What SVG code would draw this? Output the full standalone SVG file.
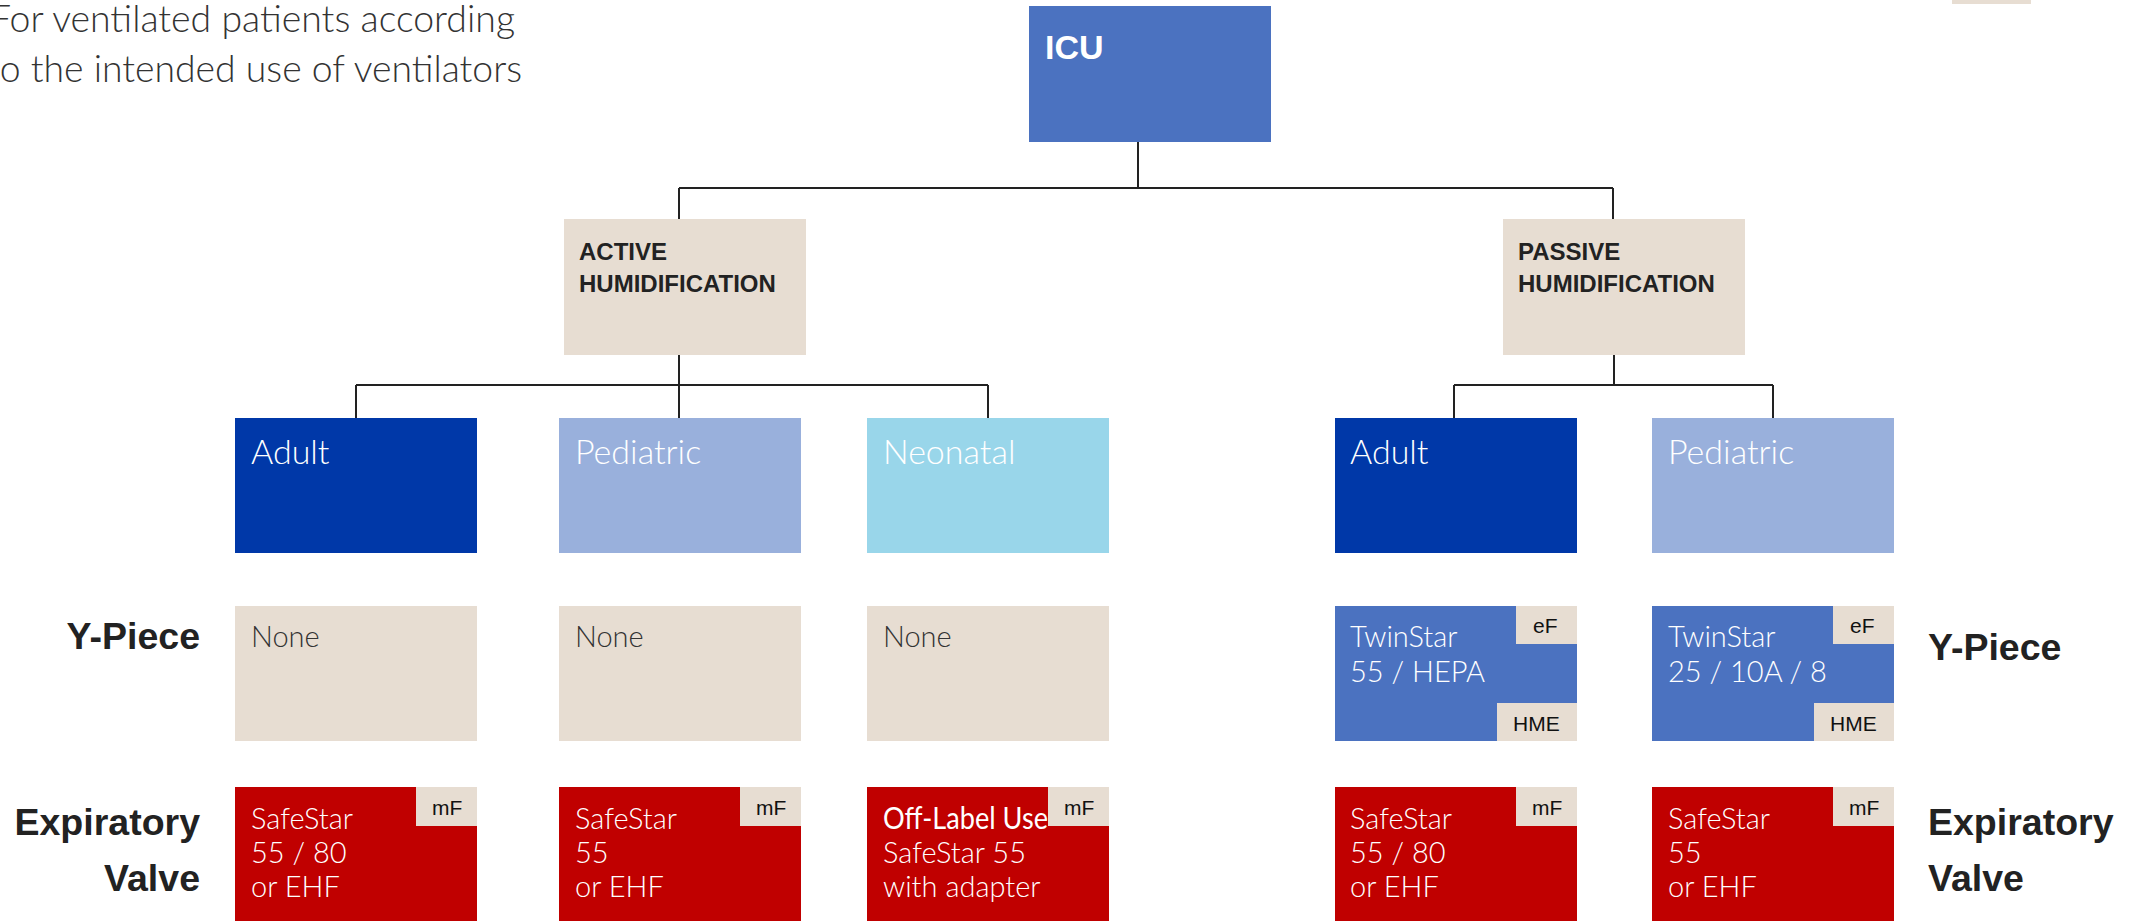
<svg xmlns="http://www.w3.org/2000/svg" width="2129" height="921" viewBox="0 0 2129 921">
<style>
.lt{font-family:Lato,"Liberation Sans",sans-serif;font-weight:300}
.cat{font-size:34px;fill:#fff}
.item{font-size:29px;fill:#fff}
.none{font-size:29px;fill:#333}
.tag{font-family:"Liberation Sans",Arial,sans-serif;font-size:21px;fill:#111}
.lbl{font-family:"Liberation Sans",Arial,sans-serif;font-weight:bold;font-size:37.5px;fill:#222}
.hum{font-family:"Liberation Sans",Arial,sans-serif;font-weight:bold;font-size:24px;fill:#222}
.beige{fill:#E7DDD2}
.red{fill:#C00000}
.mid{fill:#4B72C0}
.dark{fill:#0038A8}
.pale{fill:#99B0DC}
.cyan{fill:#99D6EA}
.con{stroke:#222;stroke-width:2;fill:none}
</style>
<rect class="beige" x="1952" y="0" width="79" height="4"/>
<g id="intro">
<text class="lt" x="-10" y="32" font-size="37" fill="#333" textLength="525" lengthAdjust="spacingAndGlyphs">For ventilated patients according</text>
<text class="lt" x="-13" y="82" font-size="37" fill="#333" textLength="535" lengthAdjust="spacingAndGlyphs">to the intended use of ventilators</text>
</g>
<g id="connectors">
<path class="con" d="M1138 142V188M679 188H1613M679 188V219M1613 188V219"/>
<path class="con" d="M679 355V418M356 385H988M356 385V418M988 385V418"/>
<path class="con" d="M1614 355V385M1454 385H1773M1454 385V418M1773 385V418"/>
</g>
<g id="icu"><rect class="mid" x="1029" y="6" width="242" height="136"/><text x="1045" y="59" font-family="Liberation Sans,Arial,sans-serif" font-weight="bold" font-size="34" fill="#fff">ICU</text></g>
<g id="active"><rect class="beige" x="564" y="219" width="242" height="136"/><text class="hum" x="579" y="260">ACTIVE</text><text class="hum" x="579" y="292">HUMIDIFICATION</text></g>
<g id="passive"><rect class="beige" x="1503" y="219" width="242" height="136"/><text class="hum" x="1518" y="260">PASSIVE</text><text class="hum" x="1518" y="292">HUMIDIFICATION</text></g>
<g id="adult-a"><rect class="dark" x="235" y="418" width="242" height="135"/><text class="lt cat" x="251" y="464">Adult</text></g>
<g id="ped-a"><rect class="pale" x="559" y="418" width="242" height="135"/><text class="lt cat" x="575" y="464">Pediatric</text></g>
<g id="neo-a"><rect class="cyan" x="867" y="418" width="242" height="135"/><text class="lt cat" x="883" y="464">Neonatal</text></g>
<g id="adult-p"><rect class="dark" x="1335" y="418" width="242" height="135"/><text class="lt cat" x="1350" y="464">Adult</text></g>
<g id="ped-p"><rect class="pale" x="1652" y="418" width="242" height="135"/><text class="lt cat" x="1668" y="464">Pediatric</text></g>
<g id="y-adult-a"><rect class="beige" x="235" y="606" width="242" height="135"/><text class="lt none" x="251" y="647">None</text></g>
<g id="y-ped-a"><rect class="beige" x="559" y="606" width="242" height="135"/><text class="lt none" x="575" y="647">None</text></g>
<g id="y-neo-a"><rect class="beige" x="867" y="606" width="242" height="135"/><text class="lt none" x="883" y="647">None</text></g>
<g id="y-adult-p"><rect class="mid" x="1335" y="606" width="242" height="135"/><text class="lt item" x="1350" y="647">TwinStar</text><text class="lt item" x="1350" y="682">55 / HEPA</text>
<rect class="beige" x="1516" y="606" width="61" height="38"/><text class="tag" x="1533" y="633">eF</text>
<rect class="beige" x="1497" y="703" width="80" height="38"/><text class="tag" x="1513" y="731">HME</text></g>
<g id="y-ped-p"><rect class="mid" x="1652" y="606" width="242" height="135"/><text class="lt item" x="1668" y="647">TwinStar</text><text class="lt item" x="1668" y="682">25 / 10A / 8</text>
<rect class="beige" x="1833" y="606" width="61" height="38"/><text class="tag" x="1850" y="633">eF</text>
<rect class="beige" x="1814" y="703" width="80" height="38"/><text class="tag" x="1830" y="731">HME</text></g>
<g id="e-adult-a"><rect class="red" x="235" y="787" width="242" height="134"/><text class="lt item" x="251" y="829">SafeStar</text><text class="lt item" x="251" y="863">55 / 80</text><text class="lt item" x="251" y="897">or EHF</text>
<rect class="beige" x="416" y="787" width="61" height="39"/><text class="tag" x="432" y="815">mF</text></g>
<g id="e-ped-a"><rect class="red" x="559" y="787" width="242" height="134"/><text class="lt item" x="575" y="829">SafeStar</text><text class="lt item" x="575" y="863">55</text><text class="lt item" x="575" y="897">or EHF</text>
<rect class="beige" x="740" y="787" width="61" height="39"/><text class="tag" x="756" y="815">mF</text></g>
<g id="e-neo-a"><rect class="red" x="867" y="787" width="242" height="134"/>
<rect class="beige" x="1048" y="787" width="61" height="39"/><text class="tag" x="1064" y="815">mF</text>
<text x="883" y="829" font-family="Lato,'Liberation Sans',sans-serif" font-size="30" fill="#fff" textLength="165" lengthAdjust="spacingAndGlyphs">Off-Label Use</text><text class="lt item" x="883" y="863">SafeStar 55</text><text class="lt item" x="883" y="897">with adapter</text></g>
<g id="e-adult-p"><rect class="red" x="1335" y="787" width="242" height="134"/><text class="lt item" x="1350" y="829">SafeStar</text><text class="lt item" x="1350" y="863">55 / 80</text><text class="lt item" x="1350" y="897">or EHF</text>
<rect class="beige" x="1516" y="787" width="61" height="39"/><text class="tag" x="1532" y="815">mF</text></g>
<g id="e-ped-p"><rect class="red" x="1652" y="787" width="242" height="134"/><text class="lt item" x="1668" y="829">SafeStar</text><text class="lt item" x="1668" y="863">55</text><text class="lt item" x="1668" y="897">or EHF</text>
<rect class="beige" x="1833" y="787" width="61" height="39"/><text class="tag" x="1849" y="815">mF</text></g>
<g id="labels-left"><text class="lbl" x="200" y="649" text-anchor="end">Y-Piece</text><text class="lbl" x="200" y="835" text-anchor="end">Expiratory</text><text class="lbl" x="200" y="891" text-anchor="end">Valve</text></g>
<g id="labels-right"><text class="lbl" x="1928" y="660">Y-Piece</text><text class="lbl" x="1928" y="835">Expiratory</text><text class="lbl" x="1928" y="891">Valve</text></g>
</svg>
